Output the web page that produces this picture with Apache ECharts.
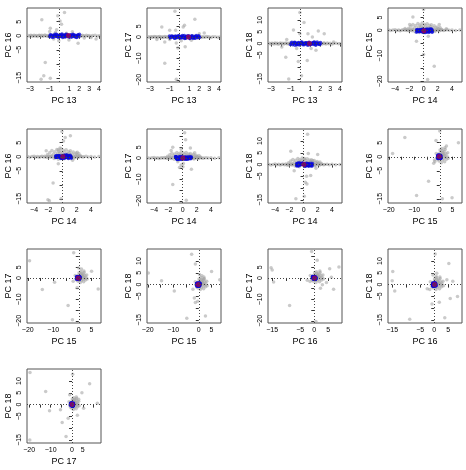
<!DOCTYPE html>
<html>
<head>
<meta charset="utf-8">
<script src="https://cdn.jsdelivr.net/npm/echarts@6/dist/echarts.min.js"></script>
<style>
  html, body { margin: 0; padding: 0; background: #fff; }
  #chart { width: 466px; height: 470px; }
</style>
</head>
<body>
<div id="chart"></div>
<script>
// panel pairs: [x PC, y PC]
const pairs = [[13,16],[13,17],[13,18],[14,15],[14,16],[14,17],[14,18],[15,16],[15,17],[15,18],[16,17],[16,18],[17,18]];

// axis extents, ticks and shown labels per PC
const pcRange = {13: [-3.3, 4.2], 14: [-5.0, 5.4], 15: [-20.3, 8.7], 16: [-16.5, 9.9], 17: [-21.0, 13.5], 18: [-16.3, 15.1]};
const pcTicks = {13: [-3,-2,-1,0,1,2,3,4], 14: [-4,-2,0,2,4], 15: [-20,-15,-10,-5,0,5], 16: [-15,-10,-5,0,5], 17: [-20,-15,-10,-5,0,5,10], 18: [-15,-10,-5,0,5,10]};
const pcLabels = {13: [-3,-1,1,2,3,4], 14: [-4,-2,0,2,4], 15: [-20,-10,0,5], 16: [-15,-5,0,5], 17: [-20,-10,0,5], 18: [-15,-5,0,5,10]};

// blue group scores
const bluePC13 = [-1.02,-0.88,-0.75,-0.69,-0.52,-0.41,-0.33,-0.18,-0.07,0.04,0.12,0.25,0.31,0.44,0.58,0.63,0.77,0.85,0.96,1.08,1.14,1.27,1.35,1.49,1.56,1.68,1.79,1.86,1.97,0.52,
  -0.95,-0.81,-0.63,-0.47,-0.36,-0.24,-0.12,0.0,0.09,0.18,0.37,0.49,0.55,0.69,0.73,0.91,1.02,1.19,1.23,1.41,1.52,1.61,1.74,1.92,2.02,0.28,0.81,-0.58,1.33,-0.28];
const bluePC14 = [0.35,-0.62,1.12,-0.15,0.78,-0.94,0.21,1.25,-0.48,0.06,-0.81,0.64,-0.27,0.93,-0.05,0.47,-0.71,1.04,0.15,-0.38,0.86,-0.99,0.28,-0.56,0.71,-0.12,1.18,-0.84,0.42,-0.22,
  -0.45,0.92,-0.18,0.55,-0.88,0.12,1.21,-0.66,0.38,-0.03,0.74,-0.93,0.25,1.08,-0.33,0.61,-0.75,0.02,0.99,-0.52,0.33,-0.08,0.81,-0.97,0.5,1.15,-0.41,0.18,-0.69,0.67];
const bluePC15 = [0.2,-0.6,-0.1,0.4,-0.8,0.1,-0.4,-0.2,0.3,-0.9,0.0,-0.5,0.25,-0.3,-0.7,0.15,-0.15,0.45,-0.55,-0.05,0.35,-0.85,-0.25,0.05,-0.45,0.3,-0.65,0.1,-0.35,0.2,
  -0.3,0.35,-0.7,0.0,-0.45,0.25,-0.85,-0.15,0.4,-0.6,0.1,-0.35,-0.95,0.2,-0.5,0.45,-0.2,-0.75,0.05,-0.4,0.3,-0.1,-0.65,0.15,-0.8,0.4,-0.25,-0.55,0.0,-0.3];
const bluePC16 = [-0.3,0.4,0.1,-0.5,0.2,-0.1,0.5,-0.4,0.0,0.3,-0.2,0.6,-0.6,0.15,-0.35,0.45,-0.05,0.25,-0.45,0.05,0.35,-0.25,0.55,-0.15,0.2,-0.55,0.1,0.4,-0.3,0.0,
  0.25,-0.45,0.05,0.5,-0.2,0.35,-0.55,0.1,-0.3,0.45,-0.1,0.2,-0.4,0.55,0.0,-0.25,0.3,-0.5,0.15,0.4,-0.35,0.05,-0.6,0.25,0.5,-0.15,0.35,-0.45,0.1,-0.05];
const bluePC17 = [0.5,-0.2,0.3,0.0,-0.6,0.4,-0.4,0.1,0.6,-0.1,-0.5,0.2,0.7,-0.3,0.05,-0.65,0.35,-0.15,0.45,-0.45,0.15,0.55,-0.25,-0.55,0.25,0.65,-0.05,-0.35,0.3,-0.7,
  -0.35,0.45,0.1,-0.6,0.25,-0.1,0.55,-0.45,0.0,0.35,-0.25,0.65,-0.5,0.2,-0.05,0.4,-0.7,0.15,0.5,-0.3,0.05,-0.55,0.3,0.6,-0.2,-0.4,0.45,0.1,-0.65,0.25];
const bluePC18 = [-0.4,0.6,-0.1,0.3,0.5,-0.6,0.0,0.45,-0.3,0.2,0.65,-0.5,0.1,-0.2,0.35,0.05,-0.65,0.55,-0.45,0.25,-0.05,0.4,-0.35,0.15,-0.55,0.7,-0.15,0.3,-0.25,0.1,
  0.2,-0.5,0.55,0.0,-0.3,0.4,-0.65,0.15,0.6,-0.15,-0.45,0.35,0.05,-0.6,0.25,0.5,-0.35,0.1,-0.2,0.65,-0.55,0.3,0.0,-0.4,0.45,-0.1,0.2,-0.7,0.55,-0.25];
const blue = {13: bluePC13, 14: bluePC14, 15: bluePC15, 16: bluePC16, 17: bluePC17, 18: bluePC18};

// red point
const red = {13: 0.9, 14: 0.05, 15: -0.2, 16: 0.1, 17: 0.0, 18: 0.0};

// gray points along the PC13 axis
const line13 = [[-3.15,0.1],[-3.02,-0.2],[-2.91,0.15],[-2.8,0.0],[-2.7,-0.15],[-2.58,0.2],[-2.47,-0.05],[-2.36,0.1],[-2.25,-0.25],[-2.14,0.05],[-2.03,0.2],[-1.92,-0.1],[-1.8,0.15],[-1.7,-0.2],[-1.6,0.0],[-1.49,0.25],[-1.38,-0.1],[-1.27,0.1],[-1.16,-0.3],[-1.05,0.2],[-0.6,0.4],[-0.2,-0.4],[0.3,0.45],[0.8,-0.45],[1.4,0.4],[1.9,-0.35],[2.08,0.1],[2.2,-0.2],[2.31,0.15],[2.45,0.0],[2.58,-0.15],[2.72,0.2],[2.86,-0.05],[3.0,0.1],[3.18,-0.2],[3.35,0.05],[3.6,0.15],[3.85,-0.1],[4.05,0.0]];
// gray points along the PC14 axis
const line14 = [[-4.9,0.1],[-4.6,-0.15],[-4.3,0.05],[-4.0,0.2],[-3.75,-0.1],[-3.5,0.1],[-3.3,-0.2],[-3.1,0.0],[-2.9,0.15],[-2.7,-0.05],[-2.5,0.2],[-2.35,-0.15],[-2.2,0.05],[-2.05,-0.25],[-1.9,0.2],[-1.75,0.0],[-1.6,-0.2],[-1.45,0.15],[1.5,0.1],[1.65,-0.15],[1.8,0.2],[1.95,-0.05],[2.1,0.15],[2.25,-0.2],[2.4,0.05],[2.6,0.1],[2.8,-0.1],[3.0,0.0],[3.3,0.15],[3.6,-0.05],[4.0,0.1],[4.5,-0.1],[5.1,0.05]];
// gray cloud near the centre of the PC14 panels
const blob14 = [[-2.1,0.8],[-1.8,1.5],[-1.6,0.4],[-1.5,2.2],[-1.3,1.0],[-1.2,-0.6],[-1.1,1.8],[-0.9,0.6],[-0.8,2.6],[-0.7,1.3],[-0.6,-0.9],[-0.5,2.0],[-0.4,0.9],[-0.3,1.6],[-0.2,2.8],[-0.1,0.5],[0.0,1.2],[0.1,2.3],[0.2,-0.7],[0.3,1.7],[0.4,0.8],[0.5,2.5],[0.6,1.1],[0.7,-0.4],[0.8,1.9],[0.9,0.7],[1.0,1.4],[1.1,2.1],[1.2,0.3],[1.35,1.0],[1.5,1.7],[1.6,-0.5],[1.75,0.9],[1.9,1.3],[2.1,0.6],[2.3,1.1],[2.5,0.4],[-1.0,0.2],[0.55,0.3],[-0.45,0.15]];
// gray cluster near the origin of PC15-PC18 panels
const core = [[0.5,0.8],[1.2,1.5],[1.8,0.4],[2.4,1.1],[0.9,2.2],[1.5,-0.6],[2.8,0.2],[0.2,1.6],[1.0,-1.2],[2.1,2.6],[-0.6,0.9],[1.7,1.9],[0.4,-0.4],[2.6,-0.9],[1.3,0.3],[-1.0,-0.3],[0.8,2.9],[3.1,1.4],[-0.3,-1.5],[1.9,-1.8],[0.1,2.4],[2.3,-0.2],[1.1,1.0],[-1.4,1.2],[0.6,-2.1],[2.0,3.2],[-0.8,-1.0],[3.3,-0.5],[1.6,0.9],[0.3,0.1]];

// scattered gray points per panel
const p1Out = [[-1.8,5.7],[-0.18,7.1],[0.5,8.3],[0.2,4.1],[0.05,5.3],[-0.94,2.7],[-1.45,-9.5],[-1.87,-15.5],[-1.6,-14.3],[-0.94,-15.2],[-1.0,1.5],[-0.42,1.2],[-0.6,-1.2],[-0.08,-1.8],[0.95,-1.5],[1.88,-2.7],[2.5,-0.8],[3.2,-0.6],[3.7,-1.2],[0.44,-0.6],[1.3,1.4],[-0.3,2.1],[0.7,0.9]];
const p2Out = [[-0.47,12.0],[1.55,8.2],[0.37,4.6],[0.5,5.4],[-1.8,4.6],[-1.0,3.1],[-0.4,3.1],[2.5,1.8],[2.0,1.5],[-2.3,-1.2],[-1.5,-2.3],[-1.0,-1.2],[-0.33,-2.8],[0.17,-1.8],[-0.17,-5.1],[0.57,-4.6],[-1.5,-12.3],[-0.33,-19.7],[1.2,-1.5]];
const p3Out = [[-0.07,13.2],[0.35,9.0],[-0.72,5.8],[-0.07,4.2],[0.75,4.2],[1.8,5.3],[2.4,4.2],[1.2,2.8],[-1.4,1.7],[-1.9,-1.4],[-1.5,-5.8],[-0.23,-7.6],[0.68,-7.2],[0.1,-13.6],[-1.2,-15.0],[1.07,-2.1],[1.56,-2.8],[-0.4,-2.1],[2.4,0.3],[3.35,0.7]];
const p4Out = [[-1.5,5.2],[0.0,8.1],[-1.0,-4.3],[0.66,-2.4],[0.0,-9.5],[1.5,-14.1],[0.57,-19.3],[-1.95,2.2],[2.2,2.2],[3.2,0.6],[-2.6,0.7]];
const p5Out = [[-0.1,9.0],[0.37,6.9],[0.13,5.6],[1.1,7.5],[-0.36,3.1],[-0.6,2.5],[-2.3,2.1],[2.07,1.6],[1.4,-1.25],[-0.6,-2.5],[-1.33,-9.4],[-2.06,-15.3],[-1.85,-15.7],[-0.2,-15.0]];
const p6Out = [[0.29,11.8],[0.43,8.5],[-1.38,5.0],[-1.6,3.5],[-0.2,4.2],[1.1,4.7],[1.7,2.4],[-0.67,-1.8],[-0.2,-3.3],[0.05,-4.1],[-0.43,-4.5],[1.24,-5.3],[-1.38,-12.4],[0.52,-19.7],[-0.9,-0.3],[0.1,-2.6]];
const p7Out = [[0.56,12.9],[-1.8,5.7],[0.66,4.7],[1.98,4.3],[0.1,2.6],[1.27,1.7],[-1.32,-2.6],[0.42,-4.9],[1.0,-4.6],[0.24,-7.5],[0.47,-8.2],[0.1,-13.4],[-1.08,-14.5],[1.74,-1.6]];
const p8Out = [[-13.7,6.9],[-1.5,5.8],[0.0,9.2],[2.6,3.8],[7.3,5.0],[-18.5,1.2],[-2.1,-1.2],[-2.4,-2.3],[-1.9,-1.7],[-4.4,-8.7],[-9.1,-13.8],[1.0,-15.0],[4.8,-14.6]];
const p9Out = [[-19.3,8.0],[-2.0,11.8],[0.0,4.6],[1.05,4.2],[5.0,3.1],[7.6,-5.1],[-14.3,-5.4],[-9.5,-2.0],[-2.2,-1.5],[-0.66,-4.6],[-4.2,-12.8],[-2.5,-19.5]];
const p10Out = [[-19.8,4.9],[-14.6,1.6],[-9.6,-2.7],[-2.8,12.9],[-1.35,8.7],[0.27,4.3],[1.2,3.7],[2.0,2.3],[5.0,5.6],[8.2,2.0],[-2.3,-2.0],[-1.76,-5.7],[-1.35,-7.6],[-0.4,-7.1],[-4.7,-14.3],[2.6,-13.3]];
const p11Out = [[-0.94,12.3],[1.06,8.3],[-15.4,4.8],[-15.0,3.7],[-14.5,-1.9],[-8.8,-12.8],[0.6,-20.3],[5.5,4.3],[8.8,5.1],[6.1,0.3],[4.35,-2.1],[2.9,-3.2],[2.2,-4.8],[6.9,-5.3],[-1.5,-1.6],[-2.5,-1.1]];
const p12Out = [[0.34,13.0],[5.2,8.9],[-14.8,5.5],[-15.0,1.6],[-14.1,-2.7],[-8.75,-14.7],[3.75,-14.1],[1.8,-7.5],[-0.8,-8.2],[5.7,-5.9],[8.3,-5.1],[6.6,1.4],[4.5,2.1],[-2.5,-1.8],[-1.6,-2.1],[0.9,4.8],[-0.45,4.1],[0.7,3.4]];
const p13Out = [[-19.6,13.6],[-12.3,5.5],[-5.4,-2.2],[0.3,12.9],[8.2,8.8],[4.6,5.0],[3.1,2.3],[11.8,0.6],[-4.6,-7.6],[-2.8,-13.5],[-19.7,-15.0],[-1.8,-5.8],[5.4,-1.6],[-1.1,4.2],[2.5,-4.5],[-10.5,-2.6]];

const grayData = [
  line13.concat(p1Out), line13.concat(p2Out), line13.concat(p3Out),
  line14.concat(blob14, p4Out), line14.concat(blob14, p5Out), line14.concat(blob14, p6Out), line14.concat(blob14, p7Out),
  core.concat(p8Out), core.concat(p9Out), core.concat(p10Out), core.concat(p11Out), core.concat(p12Out), core.concat(p13Out)
];

// layout of the plot boxes
const colLeft = [27, 147, 268, 388];
const rowTop = [8, 129, 249, 369];
const boxSize = 74;

const font = 'Liberation Sans';
const grids = [], xAxes = [], yAxes = [], series = [];

pairs.forEach(function (p, i) {
  const px = p[0], py = p[1];
  grids.push({
    left: colLeft[i % 4], top: rowTop[Math.floor(i / 4)], width: boxSize, height: boxSize,
    show: true, borderColor: '#555', borderWidth: 1, backgroundColor: 'transparent'
  });
  const axisCommon = function (pc, isY) {
    return {
      gridIndex: i, type: 'value',
      min: pcRange[pc][0], max: pcRange[pc][1],
      name: 'PC ' + pc, nameLocation: 'middle', nameGap: 14,
      nameTextStyle: {fontSize: 9, color: '#000', fontFamily: font},
      axisLine: {show: false},
      axisTick: {show: true, length: 3, lineStyle: {color: '#333', width: 1}, customValues: pcTicks[pc]},
      axisLabel: {fontSize: 7, color: '#000', fontFamily: font, margin: 4, rotate: isY ? 90 : 0,
        customValues: pcLabels[pc], formatter: function (v) { return String(v).replace('-', '\u2212'); }},
      splitLine: {show: false}
    };
  };
  xAxes.push(axisCommon(px, false));
  yAxes.push(axisCommon(py, true));

  series.push({
    type: 'scatter', xAxisIndex: i, yAxisIndex: i, data: grayData[i],
    symbolSize: 3.5, itemStyle: {color: 'rgba(160,160,160,0.7)'},
    silent: true,
    markLine: {
      silent: true, symbol: ['none', 'none'], label: {show: false},
      lineStyle: {type: [1, 2], color: '#444', width: 1},
      data: [{xAxis: 0}, {yAxis: 0}]
    }
  });
  series.push({
    type: 'scatter', xAxisIndex: i, yAxisIndex: i,
    data: blue[px].map(function (v, k) { return [v, blue[py][k]]; }),
    symbolSize: 3.5, itemStyle: {color: 'rgba(10,10,215,0.9)'}, silent: true
  });
  series.push({
    type: 'scatter', xAxisIndex: i, yAxisIndex: i,
    data: [[red[px], red[py]]],
    symbolSize: 5, itemStyle: {color: 'rgba(255,0,0,0.6)'}, silent: true
  });
});

const chart = echarts.init(document.getElementById('chart'));
chart.setOption({
  animation: false,
  backgroundColor: '#fff',
  textStyle: {fontFamily: font},
  grid: grids, xAxis: xAxes, yAxis: yAxes, series: series
});
</script>
</body>
</html>
